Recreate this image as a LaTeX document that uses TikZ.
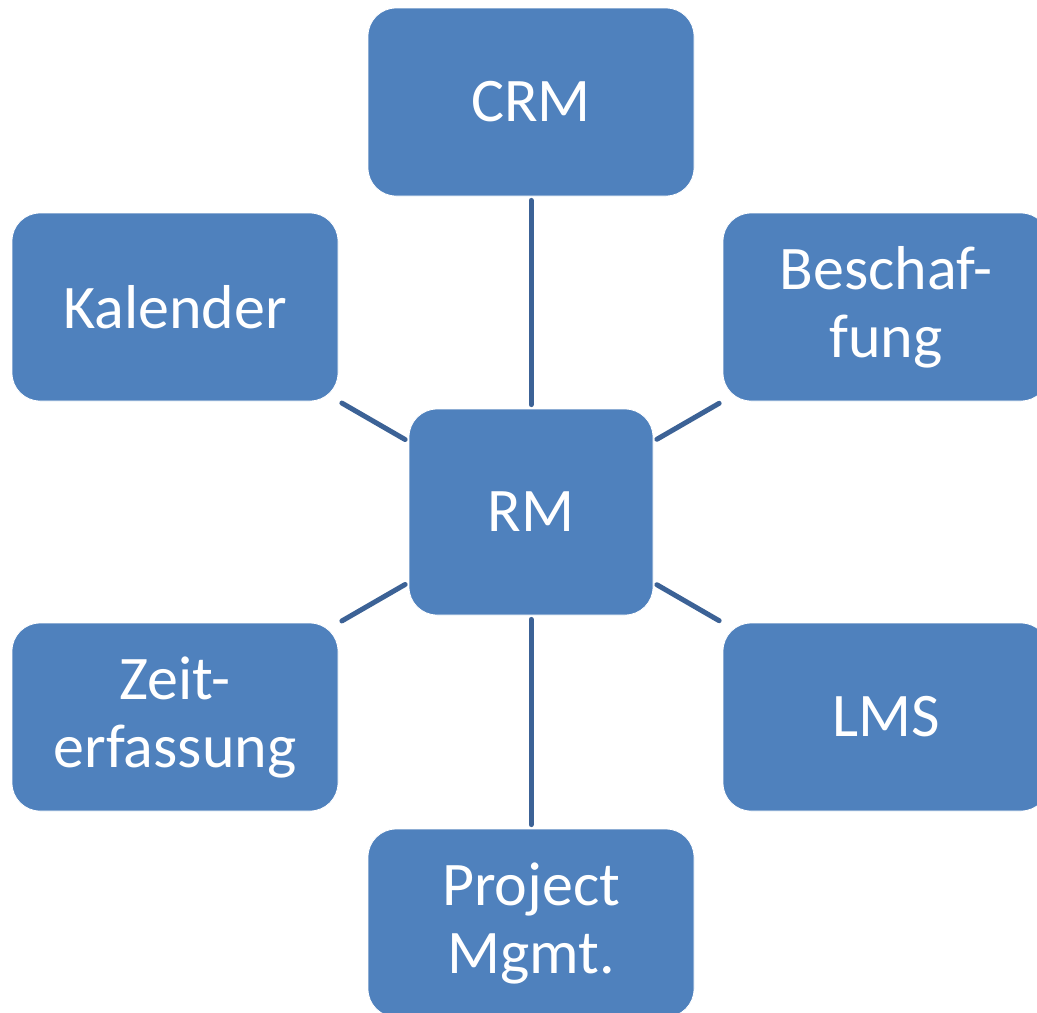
\documentclass[tikz,border=0pt]{standalone}
\usepackage{fontspec}
\setmainfont{Carlito}
\usetikzlibrary{positioning}
\definecolor{boxblue}{HTML}{4F81BD}
\definecolor{linkblue}{HTML}{3C6296}

\begin{document}
\begin{tikzpicture}[x=0.5pt, y=-0.5pt]
    \tikzstyle{block} = [draw=white, thin, fill=boxblue, rounded corners=14pt,
	minimum width=163pt, minimum height=94pt, inner sep=0pt,
	text=white, align=center, font=\fontsize{31}{34}\selectfont]
    \tikzstyle{hub} = [block, minimum width=122pt, minimum height=103pt]
    \tikzstyle{link} = [draw=linkblue, line width=2.5pt, line cap=round,
	shorten >=2pt, shorten <=2pt]

	\useasboundingbox (0,0) rectangle (1037,1012);

	\begin{scope}
		\path[-]
			node[hub] (RM) at (531,512) {RM}
			node[block] (CRM) at (531,102) {CRM}
			node[block] (Kal) at (175,307) {Kalender}
			node[block] (Besch) at (886,307) {Beschaf-\\fung}
			node[block] (Zeit) at (175,717) {Zeit-\\erfassung}
			node[block] (LMS) at (886,717) {LMS}
			node[block] (PM) at (531,923) {Project\\Mgmt.}

			(RM) edge[link] (CRM)
			(RM) edge[link] (Kal)
			(RM) edge[link] (Besch)
			(RM) edge[link] (Zeit)
			(RM) edge[link] (LMS)
			(RM) edge[link] (PM)
		;
	\end{scope}
\end{tikzpicture}
\end{document}
